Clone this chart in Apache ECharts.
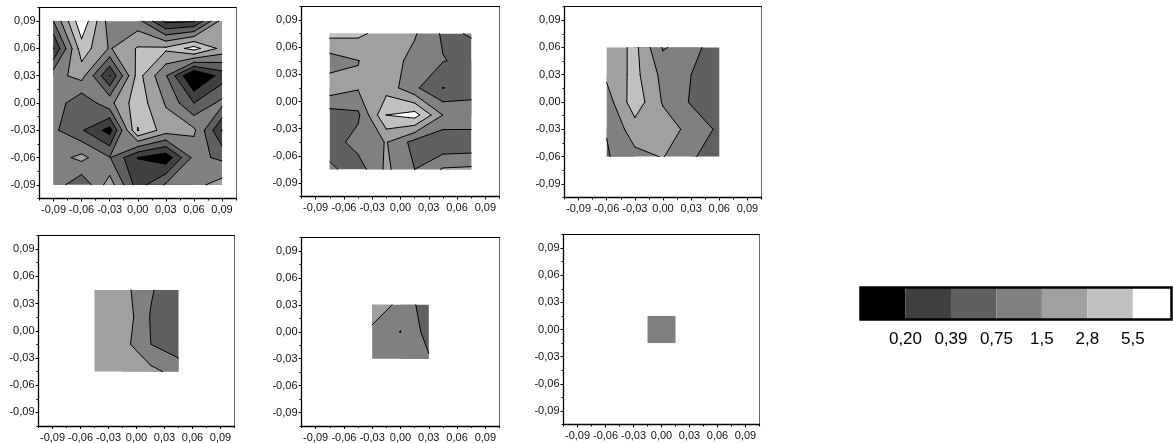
<!DOCTYPE html>
<html><head><meta charset="utf-8">
<style>html,body{margin:0;padding:0;background:#fff}#c{width:1173px;height:443px}</style>
<script src="https://cdn.jsdelivr.net/npm/echarts@6/dist/echarts.min.js"></script>
</head><body><div id="c"></div>
<script>
// Colour-bar levels and labels
const LEVELS = [0.2, 0.388, 0.753, 1.46, 2.83, 5.5];
const LEVEL_LABELS = ['0,20', '0,39', '0,75', '1,5', '2,8', '5,5'];
const BAND_COLORS = ['#000000', '#404040', '#606060', '#808080', '#a0a0a0', '#c0c0c0', '#ffffff'];
const SWATCH_WIDTHS = [1, 1, 1, 1, 1, 1, 0.86];
const MAJOR_TICKS = [-0.09, -0.06, -0.03, 0, 0.03, 0.06, 0.09];
const MINOR_TICKS = [-0.105, -0.075, -0.045, -0.015, 0.015, 0.045, 0.075, 0.105];

// Panel 1: 7 x 7 nodes
const p1x = [-0.09, -0.06, -0.03, 0, 0.03, 0.06, 0.09];
const p1y = [0.09, 0.06, 0.03, 0, -0.03, -0.06, -0.09];
const p1v = [
  [0.753, 9.34, 1.05, 0.982, 0.169, 0.187, 1.90],
  [0.1935, 4.13, 1.37, 3.02, 3.23, 7.17, 2.28],
  [1.12, 1.90, 0.197, 3.69, 0.805, 0.0845, 0.266],
  [1.15, 0.443, 1.20, 4.21, 1.37, 0.388, 0.919],
  [0.86, 0.415, 0.153, 5.68, 2.03, 1.67, 0.1935],
  [1.05, 1.78, 0.778, 0.197, 0.126, 0.919, 0.659],
  [1.12, 0.443, 2.03, 0.279, 0.831, 1.20, 1.90]
];
// Panel 2: 6 x 6 nodes
const p2x = [-0.075, -0.045, -0.015, 0.015, 0.045, 0.075];
const p2y = [0.075, 0.045, 0.015, -0.015, -0.045, -0.075];
const p2v = [
  [3.45, 3.23, 2.17, 1.56, 0.682, 0.783],
  [1.05, 1.44, 2.03, 1.18, 0.778, 0.617],
  [2.17, 1.56, 2.17, 0.86, 0.383, 0.473],
  [0.54, 0.659, 5.52, 7.32, 1.44, 1.37],
  [0.54, 0.982, 1.51, 0.597, 0.427, 0.443],
  [0.86, 0.54, 1.67, 0.753, 1.56, 1.67]
];
// Panel 3: 5 x 5 nodes
const p3x = [-0.06, -0.03, 0, 0.03, 0.06];
const p3y = [0.06, 0.03, 0, -0.03, -0.06];
const p3v = [
  [1.67, 3.45, 0.705, 1.05, 0.443],
  [1.67, 3.45, 1.20, 0.753, 0.506],
  [1.05, 4.21, 1.37, 0.705, 0.506],
  [0.778, 2.10, 2.03, 1.20, 0.659],
  [0.705, 1.20, 1.51, 0.805, 0.577]
];
// Panel 4: 4 x 4 nodes
const p4x = [-0.045, -0.015, 0.015, 0.045];
const p4y = [0.045, 0.015, -0.015, -0.045];
const p4v = [
  [2.03, 1.90, 0.805, 0.473],
  [2.17, 2.32, 0.728, 0.473],
  [2.17, 1.90, 0.76, 0.506],
  [2.32, 2.17, 1.78, 1.12]
];
// Panel 5: 3 x 3 nodes
const p5x = [-0.03, 0, 0.03];
const p5y = [0.03, 0, -0.03];
const p5v = [
  [2.32, 1.20, 0.506],
  [1.24, 1.47, 0.577],
  [1.05, 1.05, 0.805]
];
// Panel 6: 2 x 2 nodes
const p6x = [-0.015, 0.015];
const p6y = [0.015, -0.015];
const p6v = [
  [1.05, 1.05],
  [1.05, 1.05]
];

const panels = [
  {x: p1x, y: p1y, v: p1v, box: [39.5, 7.5, 196.5, 191]},
  {x: p2x, y: p2y, v: p2v, box: [301.5, 6.5, 198, 190]},
  {x: p3x, y: p3y, v: p3v, box: [564.5, 6.5, 197, 191]},
  {x: p4x, y: p4y, v: p4v, box: [38.5, 235.5, 196, 191]},
  {x: p5x, y: p5y, v: p5v, box: [301.5, 237.5, 198, 190]},
  {x: p6x, y: p6y, v: p6v, box: [563.5, 234.5, 196, 190]}
];

const LOG_LEVELS = LEVELS.map(Math.log);
const SPOT_EPS = 0.02;

function cellsOf(p, api) {
  const out = [];
  for (let r = 0; r < p.y.length - 1; r++) {
    for (let c = 0; c < p.x.length - 1; c++) {
      const P = [[p.x[c], p.y[r]], [p.x[c + 1], p.y[r]], [p.x[c + 1], p.y[r + 1]], [p.x[c], p.y[r + 1]]]
        .map(d => api.coord(d));
      const q = [p.v[r][c], p.v[r][c + 1], p.v[r + 1][c + 1], p.v[r + 1][c]].map(Math.log);
      out.push({P, q});
    }
  }
  return out;
}
function cross(cell, i, j, t) {
  const a = cell.P[i], b = cell.P[j], f = (t - cell.q[i]) / (cell.q[j] - cell.q[i]);
  return [a[0] + f * (b[0] - a[0]), a[1] + f * (b[1] - a[1])];
}
function analyse(cell, t) {
  const up = cell.q.map(v => v >= t);
  const saddle = up[0] === up[2] && up[1] === up[3] && up[0] !== up[1];
  let joined = true;
  if (saddle) {
    const highs = cell.q.filter((v, i) => up[i]);
    const centre = cell.q.reduce((s, v) => s + Math.exp(v), 0) / 4;
    joined = Math.log(centre) >= t && Math.min(...highs) - t >= SPOT_EPS;
  }
  return {up, saddle, joined};
}
function regions(cell, t) {
  const {up, saddle, joined} = analyse(cell, t);
  if (!up.some(Boolean)) return [];
  if (saddle && !joined) {
    return [0, 1, 2, 3].filter(i => up[i]).map(i => [
      cell.P[i], cross(cell, i, (i + 1) % 4, t), cross(cell, i, (i + 3) % 4, t)
    ]);
  }
  const poly = [];
  for (let i = 0; i < 4; i++) {
    const j = (i + 1) % 4;
    if (up[i]) poly.push(cell.P[i]);
    if (up[i] !== up[j]) poly.push(cross(cell, i, j, t));
  }
  return [poly];
}
function segments(cell, t) {
  const {up, saddle, joined} = analyse(cell, t);
  if (saddle) {
    const wanted = joined ? false : true;
    return [0, 1, 2, 3].filter(i => up[i] === wanted).map(i => [
      cross(cell, i, (i + 1) % 4, t), cross(cell, i, (i + 3) % 4, t)
    ]);
  }
  const pts = [];
  for (let i = 0; i < 4; i++) {
    const j = (i + 1) % 4;
    if (up[i] !== up[j]) pts.push(cross(cell, i, j, t));
  }
  return pts.length === 2 ? [pts] : [];
}
const toPath = polys => polys.map(poly =>
  'M' + poly.map(pt => pt[0].toFixed(3) + ' ' + pt[1].toFixed(3)).join('L') + 'Z').join('');

// One layer per band: all of a panel's region at or above a level, as one path, over the layer below it.
function fillLayer(p, k) {
  return function (params, api) {
    const polys = [];
    cellsOf(p, api).forEach(cell => {
      if (k < LOG_LEVELS.length && cell.q.every(v => v >= LOG_LEVELS[k])) return;
      if (k === 0) polys.push(cell.P);
      else polys.push(...regions(cell, LOG_LEVELS[k - 1]));
    });
    if (!polys.length) return {type: 'group', children: []};
    return {type: 'path', shape: {pathData: toPath(polys)}, style: {fill: BAND_COLORS[k]}};
  };
}
function contourLayer(p) {
  return function (params, api) {
    const children = [];
    cellsOf(p, api).forEach(cell => {
      LOG_LEVELS.forEach(t => {
        segments(cell, t).forEach(s => children.push({
          type: 'line',
          shape: {x1: s[0][0], y1: s[0][1], x2: s[1][0], y2: s[1][1]},
          style: {stroke: '#000', lineWidth: 1, lineCap: 'round'}
        }));
      });
    });
    return {type: 'group', children};
  };
}

const AXIS_MIN = -0.105, AXIS_MAX = 0.105;
const fmt = v => v.toFixed(2).replace('.', ',');
const FONT = '"Liberation Sans", Arial, sans-serif';
const grids = [], xAxes = [], yAxes = [], series = [];

panels.forEach((p, g) => {
  grids.push({left: p.box[0], top: p.box[1], width: p.box[2], height: p.box[3],
    show: true, borderWidth: 0, backgroundColor: '#fff'});
  const major = (margin) => ({
    type: 'value', gridIndex: g, min: AXIS_MIN, max: AXIS_MAX, splitLine: {show: false},
    axisLine: {show: true, onZero: false, lineStyle: {color: '#000', width: 1.3}},
    axisTick: {show: true, customValues: MAJOR_TICKS, length: 3, lineStyle: {color: '#000', width: 1}},
    axisLabel: {show: true, customValues: MAJOR_TICKS, formatter: fmt, fontFamily: FONT,
      fontSize: 11, color: '#111', margin, hideOverlap: false}
  });
  const minor = {
    type: 'value', gridIndex: g, min: AXIS_MIN, max: AXIS_MAX, splitLine: {show: false},
    axisLine: {show: false, onZero: false},
    axisTick: {show: true, customValues: MINOR_TICKS, length: 2, lineStyle: {color: '#000', width: 1}},
    axisLabel: {show: false}
  };
  const edge = (color) => ({
    type: 'value', gridIndex: g, min: AXIS_MIN, max: AXIS_MAX, splitLine: {show: false},
    axisLine: {show: true, onZero: false, lineStyle: {color, width: 1}},
    axisTick: {show: false}, axisLabel: {show: false}
  });
  xAxes.push(Object.assign({position: 'bottom'}, major(6)), Object.assign({position: 'bottom'}, minor),
    Object.assign({position: 'top'}, edge('#000')));
  yAxes.push(Object.assign({position: 'left'}, major(4)), Object.assign({position: 'left'}, minor),
    Object.assign({position: 'right'}, edge('#666')));
  const base = {type: 'custom', xAxisIndex: g * 3, yAxisIndex: g * 3, data: [[p.x[0], p.y[0]]], clip: false,
    silent: true, animation: false, encode: {x: 0, y: 1}};
  BAND_COLORS.forEach((_, k) => {
    series.push(Object.assign({}, base, {renderItem: fillLayer(p, k), z: 2 + k}));
  });
  series.push(Object.assign({}, base, {renderItem: contourLayer(p), z: 12}));
});

// Colour bar
const barGrid = grids.length;
grids.push({left: 860, top: 287, width: 312, height: 33});
const barMax = SWATCH_WIDTHS.reduce((a, b) => a + b, 0);
xAxes.push({type: 'value', gridIndex: barGrid, min: 0, max: barMax, splitLine: {show: false},
  axisLine: {show: false}, axisTick: {show: false},
  axisLabel: {show: true, customValues: LEVELS.map((_, i) => i + 1),
    formatter: v => LEVEL_LABELS[Math.round(v) - 1], fontFamily: FONT, fontSize: 17,
    color: '#000', margin: 11}});
yAxes.push({type: 'category', gridIndex: barGrid, data: ['bar'], show: false});
SWATCH_WIDTHS.forEach((w, i) => {
  series.push({type: 'bar', stack: 'scale', xAxisIndex: xAxes.length - 1, yAxisIndex: yAxes.length - 1,
    data: [w], barWidth: '100%', itemStyle: {color: BAND_COLORS[i]}, silent: true, animation: false});
});

const chart = echarts.init(document.getElementById('c'), null, {renderer: 'canvas'});
chart.setOption({
  animation: false, backgroundColor: '#fff',
  grid: grids, xAxis: xAxes, yAxis: yAxes, series,
  graphic: [{type: 'rect', z: 100, shape: {x: 860.5, y: 287.5, width: 311, height: 32},
    style: {fill: 'none', stroke: '#000', lineWidth: 2.5}}]
});
</script></body></html>
